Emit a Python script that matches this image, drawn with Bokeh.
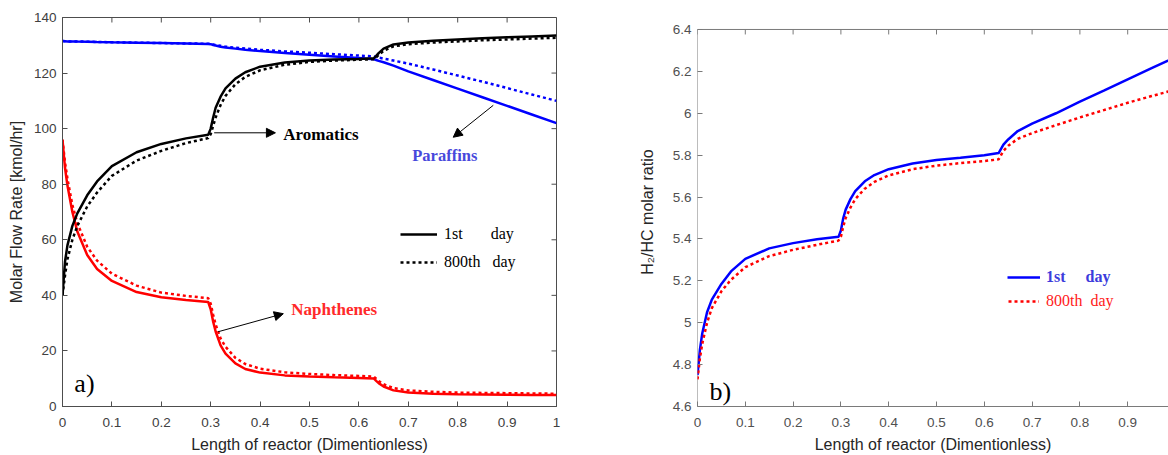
from bokeh.plotting import figure
from bokeh.models import (Range1d, FixedTicker, CustomJSTickFormatter, Span,
                          Arrow, NormalHead, Label, Legend, LegendItem)
from bokeh.layouts import row
from bokeh.embed import file_html
from bokeh.resources import INLINE

# ---------------- data ----------------
X = [0, 0.005, 0.01, 0.02, 0.03, 0.05, 0.07, 0.1, 0.15, 0.2, 0.25, 0.295,
     0.3, 0.305, 0.31, 0.32, 0.33, 0.35, 0.37, 0.4, 0.45, 0.5, 0.55, 0.6, 0.63,
     0.635, 0.64, 0.65, 0.67, 0.7, 0.75, 0.8, 0.85, 0.9, 0.95, 1.0]

AROM_1ST = [40, 52, 58, 65, 69.5, 76, 81, 86.5, 91.5, 94.5, 96.5, 97.8,
            100, 104, 107.5, 111.5, 114.5, 118, 120.3, 122.3, 123.8, 124.5, 124.9, 125.1, 125.3,
            126.2, 127.2, 128.8, 130.3, 131, 131.6, 132.1, 132.5, 132.9, 133.2, 133.5]
AROM_800 = [40, 47, 53, 60, 65, 72, 77, 83, 88.5, 92, 94.8, 96.6,
            98, 101, 104, 108.5, 111.8, 116, 118.6, 121, 123, 124, 124.5, 124.8, 125,
            125.7, 126.5, 128, 129.6, 130.4, 131, 131.4, 131.8, 132.1, 132.4, 132.7]

NAPH_1ST = [96, 86, 79.5, 70, 63, 54.5, 49.5, 45.2, 41.2, 39.3, 38.3, 37.6,
            35, 30.5, 27, 22, 19, 15.5, 13.5, 12.2, 11.2, 10.8, 10.5, 10.3, 10.1,
            9.2, 8.4, 7.2, 5.8, 5.0, 4.6, 4.4, 4.3, 4.2, 4.15, 4.1]
NAPH_800 = [96, 88, 82, 72.5, 66, 57.5, 52.5, 47.8, 43.5, 41, 39.8, 39,
            37, 33, 29.5, 24.5, 21.5, 17.5, 15.3, 13.6, 12.3, 11.7, 11.3, 11.0, 10.8,
            10.0, 9.2, 8.0, 6.6, 5.8, 5.3, 5.0, 4.9, 4.8, 4.7, 4.6]

PARA_1ST = [131.5, 131.45, 131.4, 131.4, 131.35, 131.3, 131.2, 131.1, 130.95, 130.8, 130.65, 130.5,
            130.4, 130.1, 129.9, 129.5, 129.2, 128.8, 128.4, 127.9, 127.2, 126.6, 126.0, 125.4, 125.0,
            124.7, 124.4, 123.9, 122.7, 120.6, 117.5, 114.4, 111.3, 108.2, 105.1, 102.0]
PARA_800 = [131.5, 131.45, 131.4, 131.4, 131.35, 131.3, 131.2, 131.1, 130.95, 130.8, 130.65, 130.55,
            130.5, 130.3, 130.1, 129.8, 129.5, 129.1, 128.8, 128.4, 127.8, 127.3, 126.8, 126.3, 126.0,
            125.8, 125.6, 125.2, 124.5, 123.4, 121.3, 119.1, 116.9, 114.6, 112.3, 110.0]

RATIO_1ST = [4.75, 4.87, 4.95, 5.05, 5.11, 5.185, 5.245, 5.305, 5.355, 5.38, 5.398, 5.41,
             5.44, 5.5, 5.54, 5.59, 5.628, 5.675, 5.705, 5.733, 5.76, 5.777, 5.788, 5.8, 5.81,
             5.83, 5.85, 5.875, 5.915, 5.95, 6.0, 6.055, 6.108, 6.162, 6.215, 6.268]
RATIO_800 = [4.73, 4.83, 4.9, 5.0, 5.07, 5.15, 5.205, 5.265, 5.318, 5.348, 5.372, 5.392,
             5.41, 5.46, 5.5, 5.55, 5.59, 5.64, 5.672, 5.703, 5.733, 5.75, 5.762, 5.772, 5.78,
             5.8, 5.82, 5.845, 5.878, 5.905, 5.943, 5.98, 6.015, 6.05, 6.082, 6.113]

X_TICKS = [0, 0.1, 0.2, 0.3, 0.4, 0.5, 0.6, 0.7, 0.8, 0.9, 1.0]
X_TICK_LABELS = ["0", "0.1", "0.2", "0.3", "0.4", "0.5", "0.6", "0.7", "0.8", "0.9", "1"]
Y1_TICKS = [0, 20, 40, 60, 80, 100, 120, 140]
Y1_TICK_LABELS = ["0", "20", "40", "60", "80", "100", "120", "140"]
Y2_TICKS = [4.6, 4.8, 5.0, 5.2, 5.4, 5.6, 5.8, 6.0, 6.2, 6.4]
Y2_TICK_LABELS = ["4.6", "4.8", "5", "5.2", "5.4", "5.6", "5.8", "6", "6.2", "6.4"]

X_TITLE = "Length of reactor (Dimentionless)"
Y1_TITLE = "Molar Flow Rate [kmol/hr]"
Y2_TITLE = "H\u2082/HC molar ratio"

Y2_MIN, Y2_MAX = 4.6, 6.4

SANS = "Liberation Sans"
SERIF = "Liberation Serif"
DOT = "3 3"
W = 2.5

FMT_CODE = """
let best = -1, bd = 1e9;
for (let i = 0; i < tvals.length; i++) {
  const d = Math.abs(tvals[i] - tick);
  if (d < bd) { bd = d; best = i; }
}
return bd < 1e-6 ? tlabels[best] : '';
"""


def fmt(ticks, labels):
    return CustomJSTickFormatter(args=dict(tvals=ticks, tlabels=labels), code=FMT_CODE)


def style_axis(ax, ticks, labels, color, label_color):
    ax.ticker = FixedTicker(ticks=ticks)
    ax.formatter = fmt(ticks, labels)
    ax.axis_line_color = color
    ax.major_tick_line_color = color
    ax.major_tick_in = 5
    ax.major_tick_out = 0
    ax.minor_tick_line_color = None
    ax.major_label_text_font = SANS
    ax.major_label_text_color = label_color
    ax.major_label_text_font_size = "13.5px"
    ax.major_label_standoff = 6
    ax.axis_label_text_font = SANS
    ax.axis_label_text_font_size = "16px"
    ax.axis_label_text_font_style = "normal"
    ax.axis_label_text_color = "#262626"


def style_xaxis(ax):
    ax.axis_label = X_TITLE
    ax.major_label_standoff = 11
    ax.axis_label_standoff = 6
    ax.axis_label_text_line_height = 1.0
    ax.major_label_text_line_height = 1.0


def arrow(p, xs, ys, xe, ye):
    p.add_layout(Arrow(end=NormalHead(size=9, line_color="black", fill_color="black", line_width=1),
                       x_start=xs, y_start=ys, x_end=xe, y_end=ye,
                       line_color="black", line_width=1))


def label(p, x, y, text, color, size="17px", style="bold", font=SERIF, align="left"):
    p.add_layout(Label(x=x, y=y, text=text, text_font=font, text_font_size=size,
                       text_font_style=style, text_color=color, text_baseline="alphabetic",
                       text_align=align))


H = 455
# ---------------- left panel ----------------
LC1 = "#4d4d4d"
p1 = figure(width=590, height=H, output_backend="svg", toolbar_location=None, title=None,
            x_range=Range1d(0, 1), y_range=Range1d(0, 140),
            min_border_left=62, min_border_right=34, min_border_top=17, min_border_bottom=48)
p1.xgrid.visible = False
p1.ygrid.visible = False
p1.outline_line_color = LC1
style_axis(p1.xaxis[0], X_TICKS, X_TICK_LABELS, LC1, "#404040")
style_axis(p1.yaxis[0], Y1_TICKS, Y1_TICK_LABELS, LC1, "#404040")
style_xaxis(p1.xaxis[0])
p1.yaxis[0].axis_label = Y1_TITLE
p1.yaxis[0].axis_label_standoff = 6

# inward ticks on the top and right edges (MATLAB box style)
n_x = len(X_TICKS)
n_y = len(Y1_TICKS)
p1.segment(x0=X_TICKS, y0=[140] * n_x, x1=X_TICKS, y1=[140 - 1.8] * n_x, line_color=LC1, line_width=1)
p1.segment(x0=[1.0] * n_y, y0=Y1_TICKS, x1=[1.0 - 0.0101] * n_y, y1=Y1_TICKS, line_color=LC1, line_width=1)

r_p1 = p1.line(X, PARA_1ST, line_color="#0000ff", line_width=W)
r_p8 = p1.line(X, PARA_800, line_color="#0000ff", line_width=W, line_dash=DOT)
r_n1 = p1.line(X, NAPH_1ST, line_color="#ff0000", line_width=W)
r_n8 = p1.line(X, NAPH_800, line_color="#ff0000", line_width=W, line_dash=DOT)
r_a1 = p1.line(X, AROM_1ST, line_color="#000000", line_width=W)
r_a8 = p1.line(X, AROM_800, line_color="#000000", line_width=W, line_dash=DOT)

arrow(p1, 0.307, 98.5, 0.431, 98.5)
label(p1, 0.447, 98.0, "Aromatics", "#000000")
arrow(p1, 0.872, 108.4, 0.791, 96.9)
label(p1, 0.708, 90.5, "Paraffins", "#4848dc", size="16.5px")
arrow(p1, 0.315, 26.9, 0.447, 33.4)
label(p1, 0.463, 34.8, "Naphthenes", "#ff2a2a")
label(p1, 0.024, 8.4, "a)", "#000000", size="26px", style="normal")

NB = "\u00a0"
leg1 = Legend(items=[LegendItem(label="1st" + NB * 7 + "day", renderers=[r_a1]),
                     LegendItem(label="800th" + NB * 3 + "day", renderers=[r_a8])],
              location=(338, 134), glyph_width=37, glyph_height=20, label_height=20,
              label_width=20, spacing=8, padding=0, margin=0, label_standoff=7,
              border_line_color=None, background_fill_alpha=0,
              label_text_font=SERIF, label_text_font_size="16px", label_text_color="#000000")
p1.add_layout(leg1)

# ---------------- right panel ----------------
LC2 = "#7a7a7a"
X2_END = 471 / 478
# frame spans 390 px at 210 px per unit; 6.4 sits 13 px below the frame top
Y2_END = Y2_MIN + 390 / 210
p2 = figure(width=578, height=H, output_backend="svg", toolbar_location=None, title=None,
            x_range=Range1d(0, X2_END), y_range=Range1d(Y2_MIN, Y2_END),
            min_border_left=107, min_border_right=0, min_border_top=17, min_border_bottom=48)
p2.xgrid.visible = False
p2.ygrid.visible = False
p2.outline_line_color = None
style_axis(p2.xaxis[0], X_TICKS, X_TICK_LABELS, LC2, "#505050")
style_axis(p2.yaxis[0], Y2_TICKS, Y2_TICK_LABELS, LC2, "#505050")
style_xaxis(p2.xaxis[0])
p2.yaxis[0].axis_line_color = None
p2.yaxis[0].axis_label = Y2_TITLE
p2.yaxis[0].axis_label_standoff = 14
# box: left edge and top edge of the axes at the data limits
p2.segment(x0=[0], y0=[Y2_MIN], x1=[0], y1=[Y2_MAX], line_color=LC2, line_width=1)
p2.add_layout(Span(location=Y2_MAX, dimension="width", line_color=LC2, line_width=1))
p2.segment(x0=X_TICKS, y0=[Y2_MAX] * n_x, x1=X_TICKS, y1=[Y2_MAX - 0.0238] * n_x,
           line_color=LC2, line_width=1)

r_r1 = p2.line(X, RATIO_1ST, line_color="#0000ff", line_width=W)
r_r8 = p2.line(X, RATIO_800, line_color="#ff0000", line_width=W, line_dash=DOT)
label(p2, 0.025, 4.671, "b)", "#000000", size="26px", style="normal")

leg2a = Legend(items=[LegendItem(label="1st" + NB * 5 + "day", renderers=[r_r1])],
               location=(310, 119), glyph_width=33, glyph_height=20, label_height=20,
               label_width=20, spacing=0, padding=0, margin=0, label_standoff=6,
               border_line_color=None, background_fill_alpha=0,
               label_text_font=SERIF, label_text_font_size="16px", label_text_font_style="bold",
               label_text_color="#3c3cdc")
leg2b = Legend(items=[LegendItem(label="800th" + NB * 2 + "day", renderers=[r_r8])],
               location=(311, 95), glyph_width=31, glyph_height=20, label_height=20,
               label_width=20, spacing=0, padding=0, margin=0, label_standoff=7,
               border_line_color=None, background_fill_alpha=0,
               label_text_font=SERIF, label_text_font_size="16px",
               label_text_color="#ff1a1a")
p2.add_layout(leg2a)
p2.add_layout(leg2b)

layout = row(p1, p2)
open("out.html", "w").write(file_html(layout, INLINE))
